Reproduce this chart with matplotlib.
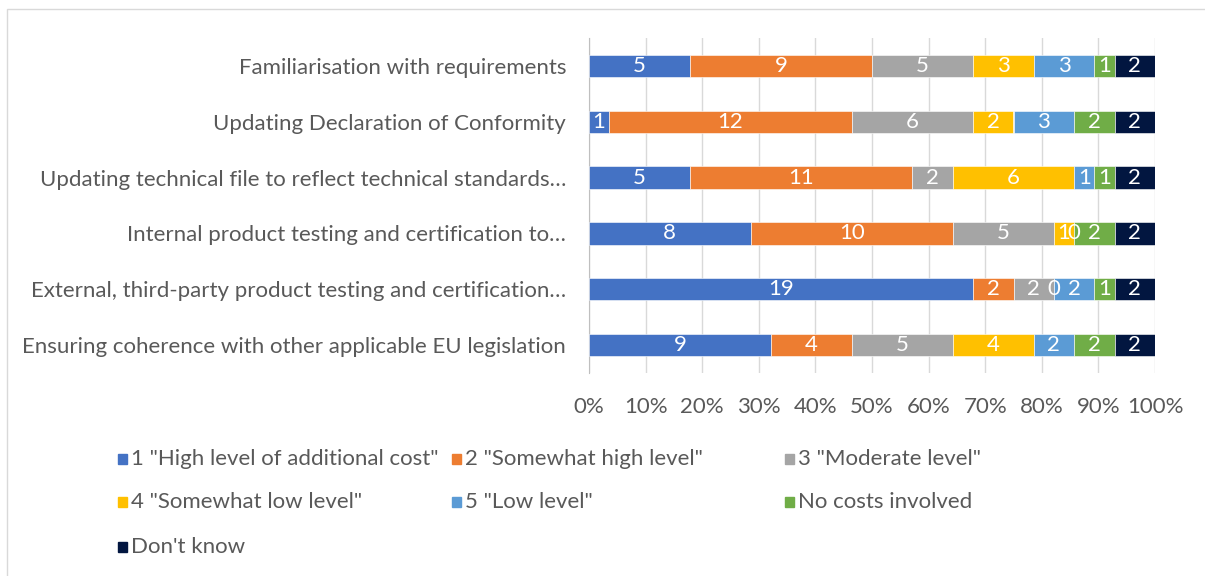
import numpy as np
import matplotlib.pyplot as plt
from matplotlib.patches import Rectangle

plt.rcParams['font.family'] = ['Lato', 'DejaVu Sans']

# Categories, top to bottom as drawn
categories = ["Familiarisation with requirements",
              "Updating Declaration of Conformity",
              "Updating technical file to reflect technical standards\u2026",
              "Internal product testing and certification to\u2026",
              "External, third-party product testing and certification\u2026",
              "Ensuring coherence with other applicable EU legislation"]

series = ['1 "High level of additional cost"', '2 "Somewhat high level"',
          '3 "Moderate level"', '4 "Somewhat low level"', '5 "Low level"',
          'No costs involved', "Don't know"]

# counts per category (rows) for each series (columns)
high      = [5, 1, 5, 8, 19, 9]
some_high = [9, 12, 11, 10, 2, 4]
moderate  = [5, 6, 2, 5, 2, 5]
some_low  = [3, 2, 6, 1, 0, 4]
low       = [3, 3, 1, 0, 2, 2]
no_costs  = [1, 2, 1, 2, 1, 2]
dont_know = [2, 2, 2, 2, 2, 2]

colors = ['#4472C4', '#ED7D31', '#A5A5A5', '#FFC000', '#5B9BD5', '#70AD47', '#021640']

FS = 16
W, H = 1205, 576
fig = plt.figure(figsize=(W/100, H/100), dpi=100)
ax = fig.add_axes([589/W, 1-373/H, (1155-589)/W, 335/H])

vals = np.array([high, some_high, moderate, some_low, low, no_costs, dont_know], dtype=float)
totals = vals.sum(axis=0)
pct = vals / totals
y = np.arange(len(categories))

left = np.zeros(len(categories))
for i in range(len(series)):
    ax.barh(y, pct[i], left=left, height=0.4, color=colors[i],
            edgecolor='white', linewidth=0.4, zorder=3)
    for j in range(len(categories)):
        ax.text(left[j] + pct[i][j]/2, y[j], '%d' % vals[i][j], color='white',
                ha='center', va='center', fontsize=FS, zorder=4)
    left += pct[i]

ax.set_ylim(len(categories) - 0.5, -0.5)
ax.set_xlim(0, 1)
ax.set_xticks(np.arange(0, 1.01, 0.1))
ax.set_xticklabels(['%d%%' % round(t*100) for t in np.arange(0, 1.01, 0.1)])
ax.set_yticks(y)
ax.set_yticklabels(categories)
ax.tick_params(axis='both', length=0, colors='#595959', labelsize=FS)
ax.tick_params(axis='y', pad=16.5)
ax.tick_params(axis='x', pad=17)
ax.grid(axis='x', color='#d9d9d9', linewidth=1, zorder=0)
for s in ['top', 'right', 'bottom']:
    ax.spines[s].set_visible(False)
ax.spines['left'].set_color('#bfbfbf')

# legend laid out like Excel: 3 equal columns
col_x = [118, 452, 785]
row_y = [459, 502, 547]
for i, lab in enumerate(series):
    cx = col_x[i % 3]
    cy = row_y[i // 3]
    fig.patches.append(Rectangle((cx/W, 1-(cy+5)/H), 9/W, 10/H, color=colors[i],
                                 transform=fig.transFigure, figure=fig))
    fig.text((cx+13)/W, 1-cy/H, lab, ha='left', va='center', fontsize=FS, color='#595959')

# chart border
fig.patches.append(Rectangle((7/W, -0.01), 1.0, 1-9/H+0.01, fill=False, edgecolor='#d9d9d9',
                             linewidth=1, transform=fig.transFigure, figure=fig))

fig.savefig('out.png', dpi=100)
